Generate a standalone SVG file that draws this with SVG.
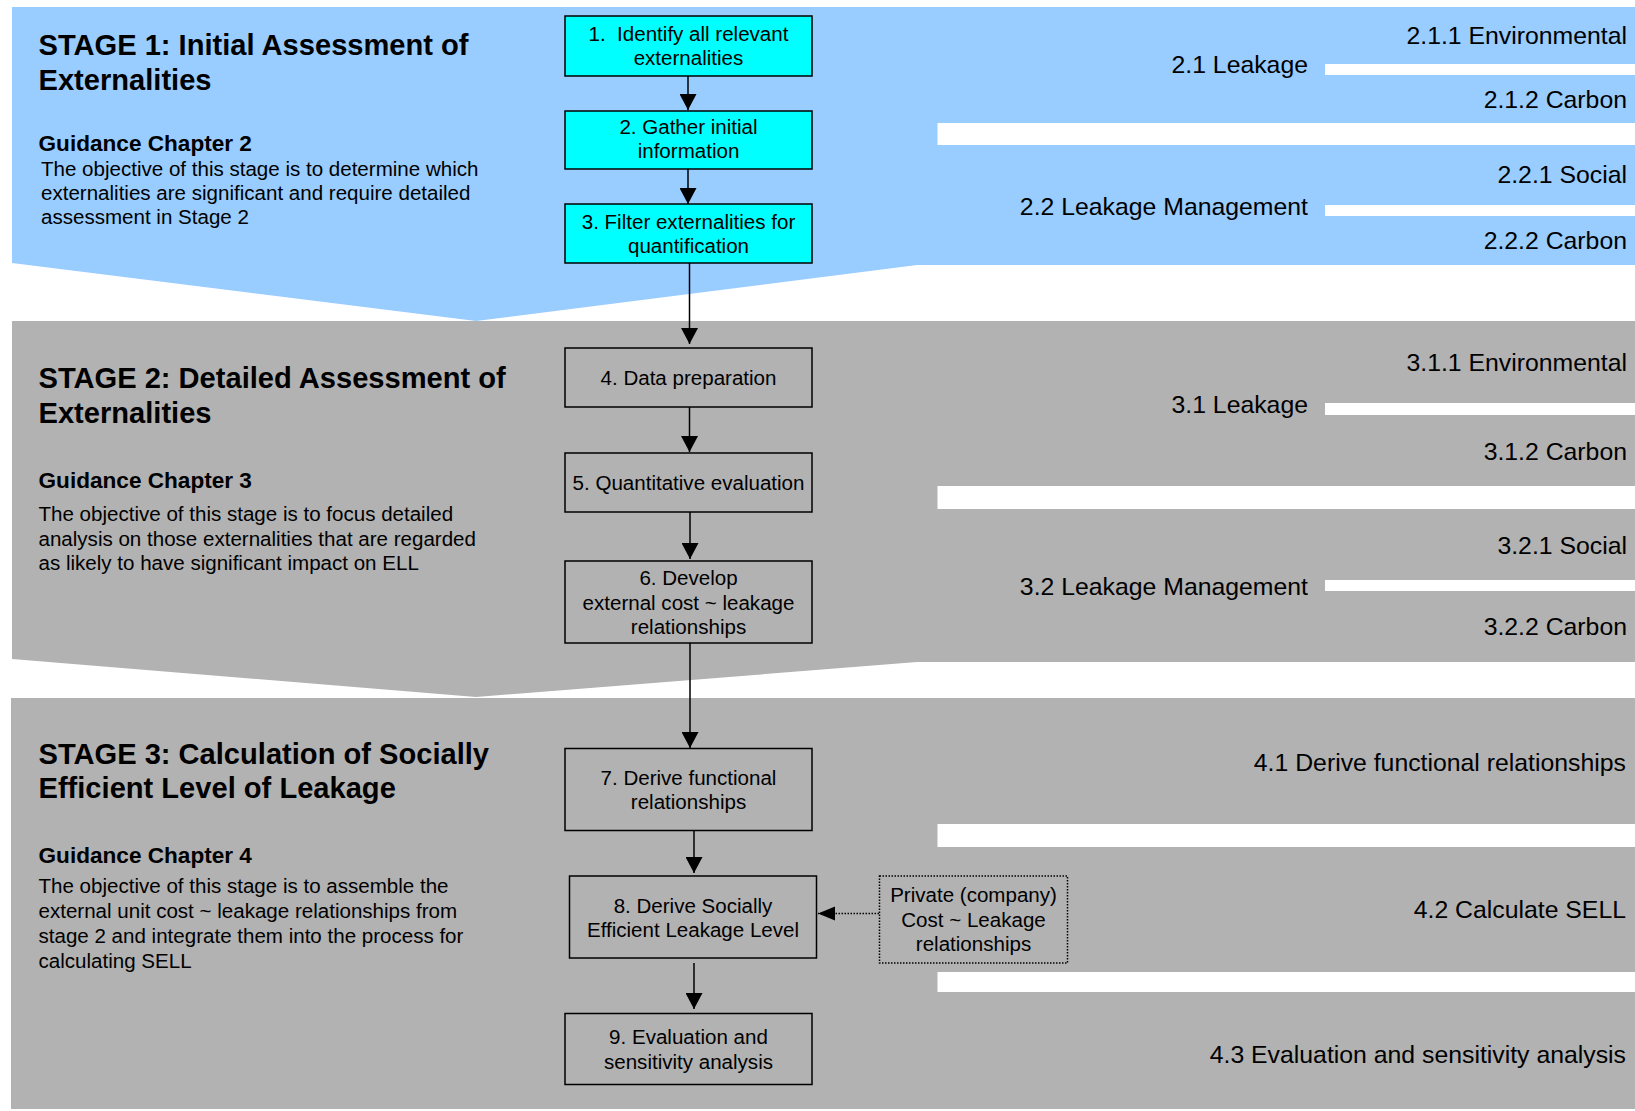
<svg xmlns="http://www.w3.org/2000/svg" width="1635" height="1111" viewBox="0 0 1635 1111">
<style>
text{font-family:"Liberation Sans",Arial,sans-serif;fill:#000}
.title{font-size:29.1px;font-weight:bold}
.guide{font-size:22.6px;font-weight:bold}
.body{font-size:20.55px}
.side{font-size:24.8px;text-anchor:end}
.box{stroke:#000;stroke-width:1.5}
.bt{font-size:20.55px;text-anchor:middle}
.cyan{fill:#00FFFF}
.grey{fill:#B2B2B2}
.conn{stroke:#000;stroke-width:1.5;fill:none}
</style>
<defs>
<marker id="ah" markerUnits="userSpaceOnUse" markerWidth="17" markerHeight="17" refX="16" refY="8.5" orient="auto">
<path d="M0,0 L16,8.5 L0,17 z" fill="#000"/>
</marker>
<marker id="ahs" markerUnits="userSpaceOnUse" markerWidth="18" markerHeight="15" refX="17" refY="7" orient="auto">
<path d="M0,0 L17,7 L0,14 z" fill="#000"/>
</marker>
</defs>

<g id="stage1-bg">
<polygon points="12,7 1635,7 1635,265 917,265 476,321 12,263" fill="#99CCFF"/>
<rect x="937.5" y="123" width="698" height="22" fill="#fff"/>
<rect x="1325" y="64" width="310" height="11" fill="#fff"/>
<rect x="1325" y="205" width="310" height="11" fill="#fff"/>
</g>
<g id="stage2-bg">
<polygon points="12,321 1635,321 1635,662 917,662 476,697 12,659" fill="#B2B2B2"/>
<rect x="937.5" y="486" width="698" height="23" fill="#fff"/>
<rect x="1325" y="403" width="310" height="12" fill="#fff"/>
<rect x="1325" y="580" width="310" height="11" fill="#fff"/>
</g>
<g id="stage3-bg">
<rect x="11" y="698" width="1624" height="411" fill="#B2B2B2"/>
<rect x="937.5" y="824" width="698" height="23" fill="#fff"/>
<rect x="937.5" y="972" width="698" height="20" fill="#fff"/>
</g>

<g id="stage1-text">
<text class="title" x="38.5" y="54.5">STAGE 1: Initial Assessment of</text>
<text class="title" x="38.5" y="89.5">Externalities</text>
<text class="guide" x="38.5" y="151">Guidance Chapter 2</text>
<text class="body" x="41" y="176">The objective of this stage is to determine which</text>
<text class="body" x="41" y="200">externalities are significant and require detailed</text>
<text class="body" x="41" y="224">assessment in Stage 2</text>
</g>
<g id="stage2-text">
<text class="title" x="38.5" y="388">STAGE 2: Detailed Assessment of</text>
<text class="title" x="38.5" y="423">Externalities</text>
<text class="guide" x="38.5" y="488">Guidance Chapter 3</text>
<text class="body" x="38.5" y="521">The objective of this stage is to focus detailed</text>
<text class="body" x="38.5" y="545.5">analysis on those externalities that are regarded</text>
<text class="body" x="38.5" y="570">as likely to have significant impact on ELL</text>
</g>
<g id="stage3-text">
<text class="title" x="38.5" y="764">STAGE 3: Calculation of Socially</text>
<text class="title" x="38.5" y="798">Efficient Level of Leakage</text>
<text class="guide" x="38.5" y="863">Guidance Chapter 4</text>
<text class="body" x="38.5" y="893">The objective of this stage is to assemble the</text>
<text class="body" x="38.5" y="918">external unit cost ~ leakage relationships from</text>
<text class="body" x="38.5" y="943">stage 2 and integrate them into the process for</text>
<text class="body" x="38.5" y="968">calculating SELL</text>
</g>

<g id="side-labels">
<text class="side" x="1627" y="44">2.1.1 Environmental</text>
<text class="side" x="1308" y="73">2.1 Leakage</text>
<text class="side" x="1627" y="108">2.1.2 Carbon</text>
<text class="side" x="1627" y="183">2.2.1 Social</text>
<text class="side" x="1308" y="215">2.2 Leakage Management</text>
<text class="side" x="1627" y="249">2.2.2 Carbon</text>
<text class="side" x="1627" y="371">3.1.1 Environmental</text>
<text class="side" x="1308" y="413">3.1 Leakage</text>
<text class="side" x="1627" y="460">3.1.2 Carbon</text>
<text class="side" x="1627" y="554">3.2.1 Social</text>
<text class="side" x="1308" y="595">3.2 Leakage Management</text>
<text class="side" x="1627" y="635">3.2.2 Carbon</text>
<text class="side" x="1626" y="771">4.1 Derive functional relationships</text>
<text class="side" x="1626" y="918">4.2 Calculate SELL</text>
<text class="side" x="1626" y="1063">4.3 Evaluation and sensitivity analysis</text>
</g>

<g id="connectors">
<line class="conn" x1="688" y1="76" x2="688" y2="110" marker-end="url(#ah)"/>
<line class="conn" x1="688" y1="169" x2="688" y2="204" marker-end="url(#ah)"/>
<line class="conn" x1="689.5" y1="263" x2="689.5" y2="344" marker-end="url(#ah)"/>
<line class="conn" x1="689.5" y1="407" x2="689.5" y2="452" marker-end="url(#ah)"/>
<line class="conn" x1="690" y1="512" x2="690" y2="559" marker-end="url(#ah)"/>
<line class="conn" x1="690" y1="643" x2="690" y2="748" marker-end="url(#ah)"/>
<line class="conn" x1="694" y1="827" x2="694" y2="873" marker-end="url(#ah)"/>
<line class="conn" x1="694" y1="963" x2="694" y2="1009" marker-end="url(#ah)"/>
<line class="conn" x1="879" y1="913.5" x2="818" y2="913.5" stroke-dasharray="1.5 1.5" marker-end="url(#ahs)"/>
</g>

<g id="n1"><rect class="box cyan" x="565" y="16" width="247" height="60"/>
<text class="bt" x="688.5" y="41">1.&#160; Identify all relevant</text>
<text class="bt" x="688.5" y="65">externalities</text></g>
<g id="n2"><rect class="box cyan" x="565" y="111" width="247" height="58"/>
<text class="bt" x="688.5" y="134">2. Gather initial</text>
<text class="bt" x="688.5" y="158">information</text></g>
<g id="n3"><rect class="box cyan" x="565" y="204" width="247" height="59"/>
<text class="bt" x="688.5" y="229">3. Filter externalities for</text>
<text class="bt" x="688.5" y="253">quantification</text></g>
<g id="n4"><rect class="box grey" x="565" y="348" width="247" height="59"/>
<text class="bt" x="688.5" y="385">4. Data preparation</text></g>
<g id="n5"><rect class="box grey" x="565" y="453" width="247" height="59"/>
<text class="bt" x="688.5" y="490">5. Quantitative evaluation</text></g>
<g id="n6"><rect class="box grey" x="565" y="561" width="247" height="82"/>
<text class="bt" x="688.5" y="585">6. Develop</text>
<text class="bt" x="688.5" y="610">external cost ~ leakage</text>
<text class="bt" x="688.5" y="634">relationships</text></g>
<g id="n7"><rect class="box grey" x="565" y="748.5" width="247" height="82"/>
<text class="bt" x="688.5" y="785">7. Derive functional</text>
<text class="bt" x="688.5" y="809">relationships</text></g>
<g id="n8"><rect class="box grey" x="569.5" y="876" width="247" height="82"/>
<text class="bt" x="693" y="913">8. Derive Socially</text>
<text class="bt" x="693" y="937">Efficient Leakage Level</text></g>
<g id="n9"><rect class="box grey" x="565" y="1013.5" width="247" height="71"/>
<text class="bt" x="688.5" y="1043.5">9. Evaluation and</text>
<text class="bt" x="688.5" y="1068.5">sensitivity analysis</text></g>
<g id="n10"><rect x="879.5" y="876" width="188" height="87" fill="none" stroke="#000" stroke-width="1.5" stroke-dasharray="1.5 1.5"/>
<text class="bt" x="973.5" y="902">Private (company)</text>
<text class="bt" x="973.5" y="927">Cost ~ Leakage</text>
<text class="bt" x="973.5" y="951">relationships</text></g>
</svg>
